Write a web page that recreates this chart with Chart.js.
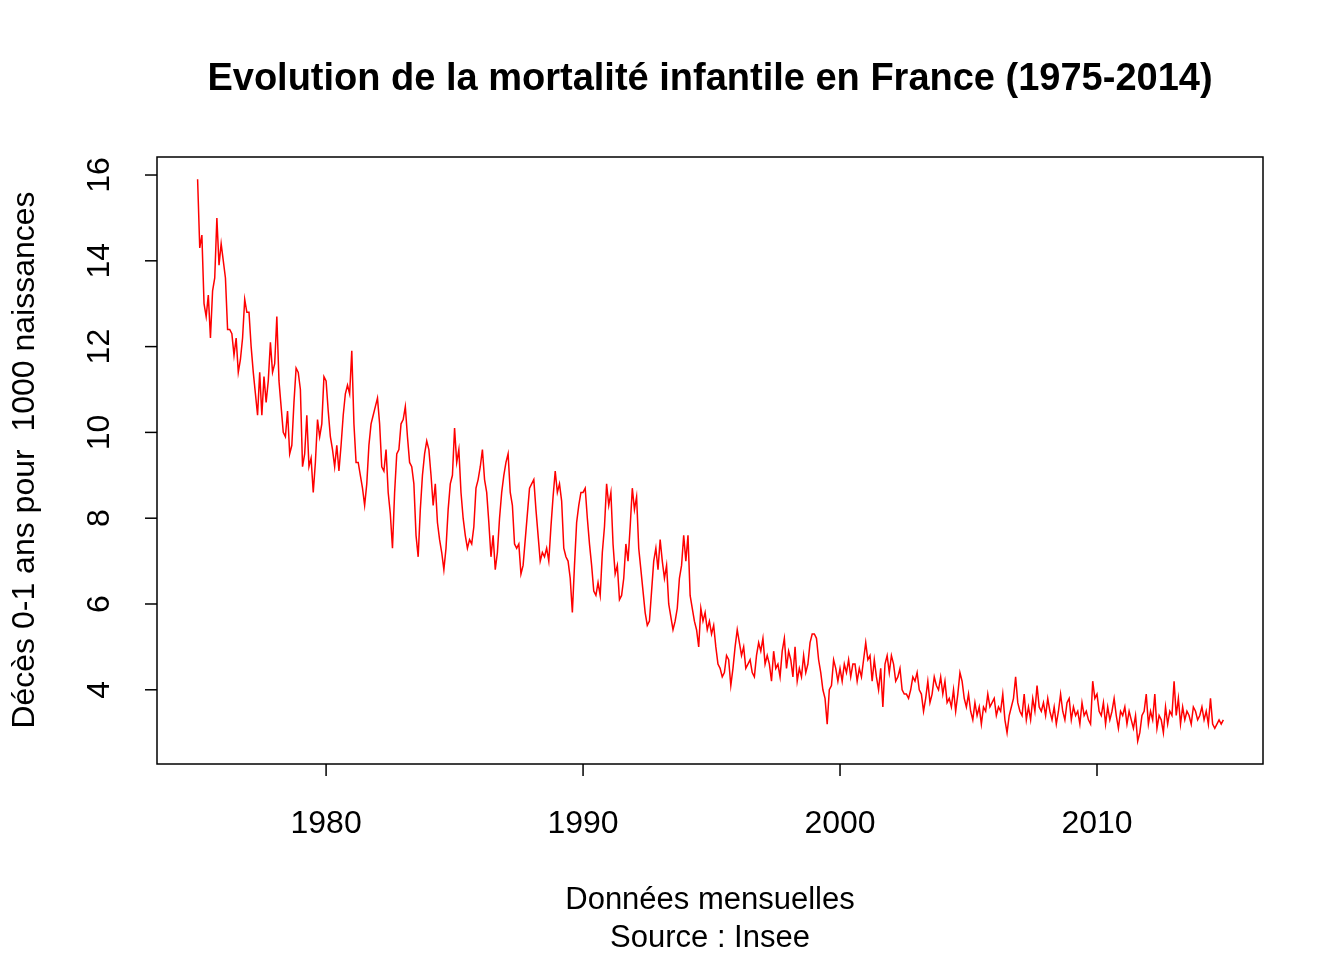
<!DOCTYPE html>
<html>
<head>
<meta charset="utf-8">
<script src="https://cdn.jsdelivr.net/npm/chart.js@4.4.1/dist/chart.umd.min.js"></script>
<style>
  html, body { margin: 0; padding: 0; background: #fff; }
  #wrap { width: 1344px; height: 960px; }
</style>
</head>
<body>
<div id="wrap"><canvas id="c"></canvas></div>
<script>
// Monthly infant mortality, Jan..Dec
const startYear = 1975;
const y1975 = [15.9,14.3,14.6,13.0,12.7,13.2,12.2,13.3,13.6,15.0,13.9,14.4];
const y1976 = [14.0,13.6,12.4,12.4,12.3,11.8,12.2,11.4,11.7,12.2,13.1,12.8];
const y1977 = [12.8,12.0,11.4,10.9,10.4,11.4,10.4,11.3,10.7,11.2,12.1,11.4];
const y1978 = [11.6,12.7,11.2,10.6,10.0,9.9,10.5,9.5,9.7,10.7,11.5,11.4];
const y1979 = [11.0,9.2,9.5,10.4,9.2,9.4,8.6,9.3,10.3,9.9,10.2,11.3];
const y1980 = [11.2,10.5,9.9,9.6,9.2,9.7,9.1,9.7,10.4,10.9,11.1,10.9];
const y1981 = [11.9,10.2,9.3,9.3,9.0,8.7,8.3,8.8,9.7,10.2,10.4,10.6];
const y1982 = [10.8,10.2,9.2,9.1,9.6,8.6,8.1,7.3,8.6,9.5,9.6,10.2];
const y1983 = [10.3,10.6,9.9,9.3,9.2,8.8,7.6,7.1,8.2,9.0,9.5,9.8];
const y1984 = [9.6,9.0,8.3,8.8,7.9,7.5,7.2,6.8,7.3,8.2,8.8,9.0];
const y1985 = [10.1,9.3,9.6,8.6,8.0,7.6,7.3,7.5,7.4,7.8,8.7,8.9];
const y1986 = [9.2,9.6,8.9,8.6,7.9,7.1,7.6,6.8,7.2,8.0,8.6,9.0];
const y1987 = [9.3,9.5,8.6,8.3,7.4,7.3,7.4,6.7,6.9,7.5,8.1,8.7];
const y1988 = [8.8,8.9,8.2,7.6,7.0,7.2,7.1,7.3,7.0,7.8,8.5,9.1];
const y1989 = [8.6,8.8,8.4,7.3,7.1,7.0,6.6,5.8,6.9,7.9,8.3,8.6];
const y1990 = [8.6,8.7,8.0,7.4,6.9,6.3,6.2,6.5,6.2,7.2,7.8,8.8];
const y1991 = [8.3,8.6,7.4,6.7,6.9,6.1,6.2,6.6,7.4,7.0,7.8,8.7];
const y1992 = [8.2,8.5,7.3,6.8,6.3,5.8,5.5,5.6,6.3,7.0,7.3,6.8];
const y1993 = [7.5,7.0,6.6,6.9,6.0,5.7,5.4,5.6,5.9,6.6,6.9,7.6];
const y1994 = [7.0,7.6,6.2,5.9,5.6,5.4,5.0,5.9,5.6,5.8,5.4,5.6];
const y1995 = [5.3,5.5,5.0,4.6,4.5,4.3,4.4,4.8,4.7,4.1,4.5,5.0];
const y1996 = [5.4,5.1,4.8,5.0,4.5,4.6,4.7,4.4,4.3,4.8,5.1,4.9];
const y1997 = [5.2,4.6,4.8,4.6,4.2,4.9,4.5,4.6,4.3,4.9,5.2,4.5];
const y1998 = [4.9,4.7,4.3,5.0,4.2,4.5,4.3,4.8,4.4,4.6,5.1,5.3];
const y1999 = [5.3,5.2,4.7,4.4,4.0,3.8,3.2,4.0,4.1,4.7,4.5,4.2];
const y2000 = [4.5,4.2,4.6,4.4,4.7,4.3,4.6,4.6,4.2,4.5,4.3,4.7];
const y2001 = [5.1,4.7,4.8,4.2,4.7,4.3,4.0,4.5,3.6,4.6,4.8,4.4];
const y2002 = [4.8,4.6,4.2,4.3,4.5,4.0,3.9,3.9,3.8,4.0,4.3,4.2];
const y2003 = [4.4,4.0,3.9,3.5,3.8,4.2,3.7,3.9,4.3,4.1,4.0,4.3];
const y2004 = [3.9,4.2,3.7,3.8,3.6,4.0,3.5,3.9,4.4,4.2,3.8,3.6];
const y2005 = [3.9,3.5,3.3,3.7,3.4,3.6,3.2,3.6,3.5,3.9,3.6,3.7];
const y2006 = [3.8,3.4,3.6,3.5,3.9,3.3,3.0,3.4,3.6,3.8,4.3,3.7];
const y2007 = [3.5,3.4,3.9,3.3,3.6,3.3,3.8,3.5,4.1,3.6,3.5,3.7];
const y2008 = [3.4,3.8,3.5,3.3,3.6,3.2,3.5,3.9,3.5,3.3,3.7,3.8];
const y2009 = [3.3,3.6,3.4,3.5,3.2,3.7,3.4,3.5,3.3,3.2,4.2,3.8];
const y2010 = [3.9,3.5,3.4,3.7,3.2,3.6,3.3,3.5,3.8,3.4,3.1,3.5];
const y2011 = [3.4,3.6,3.2,3.5,3.3,3.1,3.4,2.8,3.0,3.4,3.5,3.9];
const y2012 = [3.2,3.5,3.3,3.9,3.1,3.4,3.3,3.0,3.6,3.2,3.5,3.4];
const y2013 = [4.2,3.4,3.8,3.2,3.6,3.3,3.5,3.4,3.2,3.6,3.5,3.3];
const y2014 = [3.4,3.6,3.3,3.5,3.2,3.8,3.2,3.1,3.2,3.3,3.2,3.3];

const years = [y1975,y1976,y1977,y1978,y1979,y1980,y1981,y1982,y1983,y1984,
  y1985,y1986,y1987,y1988,y1989,y1990,y1991,y1992,y1993,y1994,
  y1995,y1996,y1997,y1998,y1999,y2000,y2001,y2002,y2003,y2004,
  y2005,y2006,y2007,y2008,y2009,y2010,y2011,y2012,y2013,y2014];

const xTicks = [1980, 1990, 2000, 2010];
const yTicks = [4, 6, 8, 10, 12, 14, 16];

const points = [];
years.forEach((vals, i) => {
  vals.forEach((v, m) => points.push({ x: startYear + i + m / 12, y: v }));
});

const FONT = "'Liberation Sans', Arial, sans-serif";

// R-style box, ticks and titles
const rAxes = {
  id: "rAxes",
  afterDraw(chart) {
    const { ctx, chartArea: a, scales } = chart;
    ctx.save();
    ctx.strokeStyle = "#000";
    ctx.lineWidth = 1.5;
    ctx.strokeRect(a.left, a.top, a.right - a.left, a.bottom - a.top);
    ctx.fillStyle = "#000";
    ctx.font = "32px " + FONT;
    ctx.textAlign = "center";
    ctx.textBaseline = "middle";
    xTicks.forEach(t => {
      const px = scales.x.getPixelForValue(t);
      ctx.beginPath(); ctx.moveTo(px, a.bottom); ctx.lineTo(px, a.bottom + 12); ctx.stroke();
      ctx.fillText(String(t), px, a.bottom + 60);
    });
    yTicks.forEach(t => {
      const py = scales.y.getPixelForValue(t);
      ctx.beginPath(); ctx.moveTo(a.left, py); ctx.lineTo(a.left - 12, py); ctx.stroke();
      ctx.save();
      ctx.translate(a.left - 57, py);
      ctx.rotate(-Math.PI / 2);
      ctx.fillText(String(t), 0, 0);
      ctx.restore();
    });
    ctx.font = "bold 38px " + FONT;
    ctx.fillText("Evolution de la mortalité infantile en France (1975-2014)", 710, 80);
    ctx.font = "31px " + FONT;
    ctx.fillText("Données mensuelles", 710, 900);
    ctx.fillText("Source : Insee", 710, 938);
    ctx.save();
    ctx.translate(25, 460);
    ctx.rotate(-Math.PI / 2);
    ctx.font = "32px " + FONT;
    ctx.fillText("Décès 0-1 ans pour  1000 naissances", 0, 0);
    ctx.restore();
    ctx.restore();
  }
};

new Chart(document.getElementById("c"), {
  type: "line",
  data: {
    datasets: [{
      data: points,
      borderColor: "#ff0000",
      borderWidth: 1.5,
      pointRadius: 0,
      tension: 0,
      fill: false
    }]
  },
  options: {
    responsive: true,
    maintainAspectRatio: false,
    animation: false,
    layout: { padding: { left: 157, right: 81, top: 157, bottom: 196 } },
    scales: {
      x: { type: "linear", min: 1973.42, max: 2016.46, display: false },
      y: { type: "linear", min: 2.27, max: 16.42, display: false }
    },
    plugins: { legend: { display: false }, tooltip: { enabled: false } }
  },
  plugins: [rAxes]
});
</script>
</body>
</html>
